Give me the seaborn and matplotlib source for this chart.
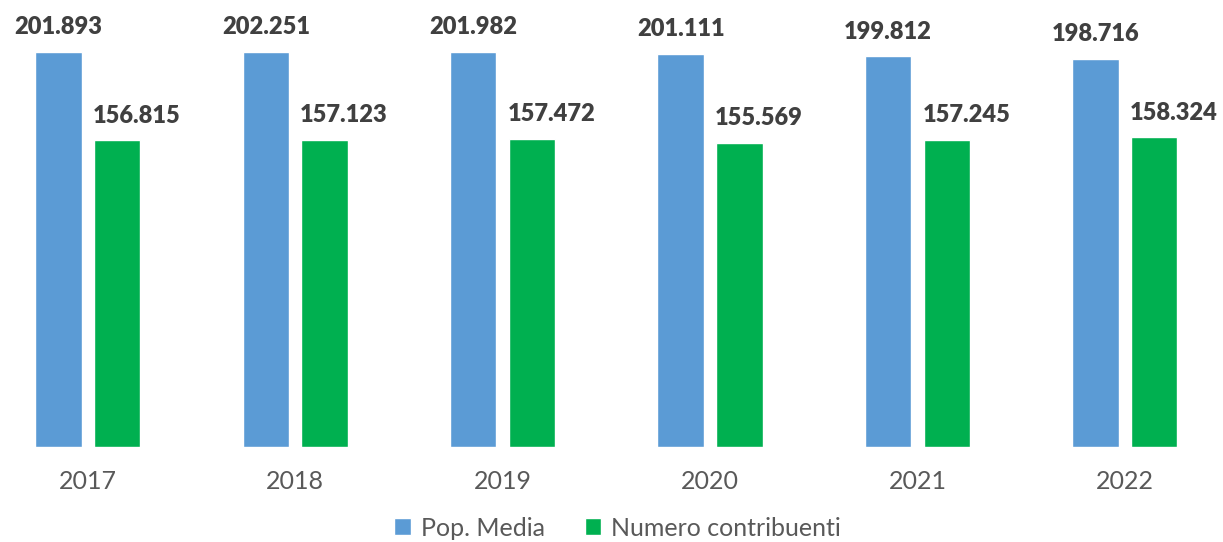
import matplotlib
matplotlib.use('Agg')
import matplotlib.pyplot as plt
import seaborn as sns
import pandas as pd

years = ['2017', '2018', '2019', '2020', '2021', '2022']
pop_media = [201893, 202251, 201982, 201111, 199812, 198716]
contribuenti = [156815, 157123, 157472, 155569, 157245, 158324]
series_names = ['Pop. Media', 'Numero contribuenti']
colors = ['#5B9BD5', '#00B050']

df = pd.DataFrame({
    'Anno': years * 2,
    'Valore': pop_media + contribuenti,
    'Serie': [series_names[0]] * len(years) + [series_names[1]] * len(years),
})

sns.set_theme(style='white')
plt.rcParams['font.family'] = ['Lato', 'DejaVu Sans']

fig = plt.figure(figsize=(12.23, 5.42), dpi=100)
ax = fig.add_axes([0, 95.3 / 542, 1, 446.7 / 542])
sns.barplot(data=df, x='Anno', y='Valore', hue='Serie', hue_order=series_names,
            palette=colors, width=0.567, gap=0.21, saturation=1, ax=ax)
ax.set_xlim(-0.4233, 5.4735)
ax.set_ylim(0, 228700)
for s in ax.spines.values():
    s.set_visible(False)
ax.set_yticks([])
ax.set_xlabel('')
ax.set_ylabel('')
ax.tick_params(axis='x', length=0, pad=17, labelsize=18, labelcolor='#595959')


def fmt(v):
    return f"{int(round(v)):,}".replace(',', '.')


for container, dx in zip(ax.containers, [0, 14]):
    for bar in container:
        h = bar.get_height()
        ax.annotate(fmt(h), (bar.get_x() + bar.get_width() / 2, h),
                    xytext=(dx, 10), textcoords='offset points',
                    ha='center', va='bottom', fontsize=17, fontweight='heavy',
                    color='#404040', annotation_clip=False)

sns.move_legend(ax, 'upper center', bbox_to_anchor=(0.505, 0.047),
                bbox_transform=fig.transFigure, ncol=2, frameon=False,
                title=None, fontsize=18, handlelength=0.65, handleheight=0.65,
                columnspacing=1.6, handletextpad=0.4, borderaxespad=0,
                borderpad=0, labelcolor='#595959')

fig.savefig('out.png', dpi=100)
